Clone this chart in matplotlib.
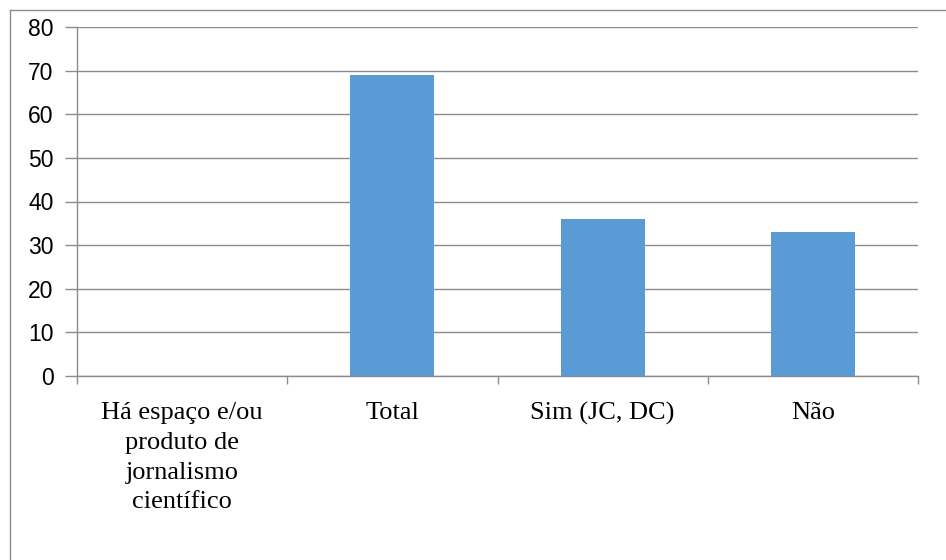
import matplotlib
matplotlib.use("Agg")
import matplotlib.pyplot as plt
import numpy as np
from matplotlib.lines import Line2D

categories = ["Há espaço e/ou\nproduto de\njornalismo\ncientífico", "Total", "Sim (JC, DC)", "Não"]
values = [0, 69, 36, 33]
yticks = [0, 10, 20, 30, 40, 50, 60, 70, 80]

W, H = 946, 560
fig = plt.figure(figsize=(W / 100, H / 100), dpi=100)
left, right, top, bottom = 77, 918, 27, 376
ax = fig.add_axes([left / W, 1 - bottom / H, (right - left) / W, (bottom - top) / H])

x = np.arange(len(categories))
ax.bar(x, values, width=0.4, color="#5B9BD5", zorder=3)
ax.set_xlim(-0.5, len(categories) - 0.5)
ax.set_ylim(0, 80)
ax.set_yticks(yticks)
ax.set_yticklabels([str(v) for v in yticks], fontfamily="Liberation Sans", fontsize=16.5)
ax.yaxis.grid(True, color="#8c8c8c", linewidth=1.0, zorder=0)
ax.tick_params(axis="y", length=9, color="#8c8c8c", pad=8, width=1.0)

ax.set_xticks(x)
ax.set_xticklabels(categories, fontfamily="Liberation Serif", fontsize=19, linespacing=1.45, va="top")
ax.tick_params(axis="x", which="major", length=0, pad=19)
ax.set_xticks(np.arange(-0.5, len(categories), 1.0), minor=True)
ax.tick_params(axis="x", which="minor", length=6, color="#8c8c8c", width=1.0)

for s in ["top", "right"]:
    ax.spines[s].set_visible(False)
for s in ["left", "bottom"]:
    ax.spines[s].set_color("#8c8c8c")
    ax.spines[s].set_linewidth(1.0)

# outer chart border (top and left visible)
fig.add_artist(Line2D([10 / W, 1], [1 - 10 / H, 1 - 10 / H], transform=fig.transFigure, color="#8c8c8c", linewidth=1.0))
fig.add_artist(Line2D([10 / W, 10 / W], [0, 1 - 10 / H], transform=fig.transFigure, color="#8c8c8c", linewidth=1.0))

fig.savefig("out.png", dpi=100)
